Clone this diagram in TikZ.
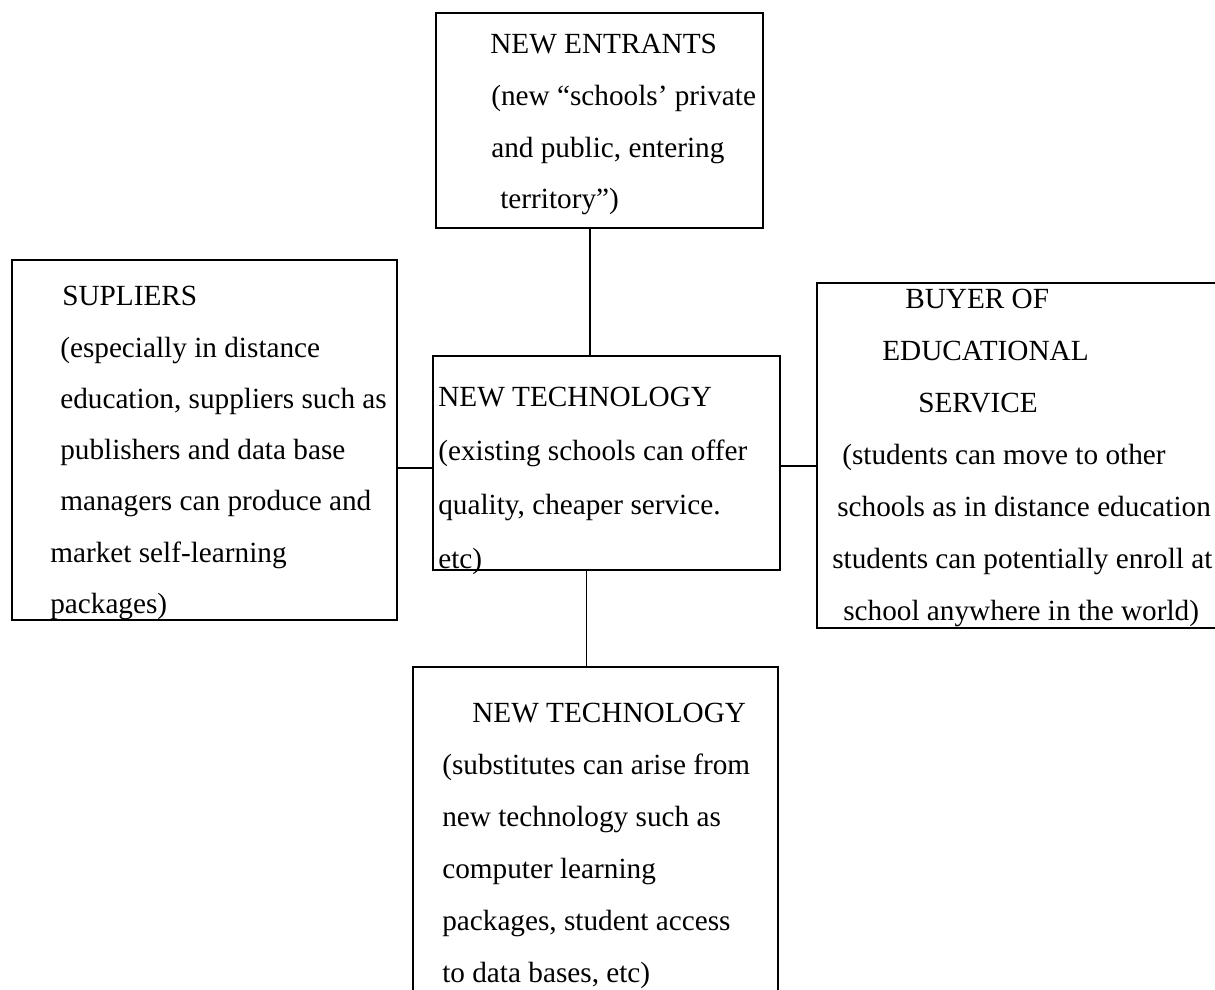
\documentclass[tikz,border=0pt]{standalone}
\usepackage{fontspec}
\setmainfont{Liberation Serif}
\usepackage{tikz}

\begin{document}
\begin{tikzpicture}[x=0.025cm, y=-0.025cm,
        box/.style={draw, line width=1.2pt, inner sep=0pt},
        txt/.style={anchor=base west, inner sep=0pt, font=\fontsize{20.8}{37}\selectfont}]
        \useasboundingbox (0,0) rectangle (1215,989);

        % New entrants
        \node[box, minimum width=8.175cm, minimum height=5.375cm] (entr) at (599.5,120.5) {};
        \node[txt] (entr1) at (490,53) {NEW ENTRANTS};
        \node[txt] (entr2) at (491,105) {(new “schools’ private};
        \node[txt] (entr3) at (491,157) {and public, entering};
        \node[txt] (entr4) at (500,208) {territory”)};

        % Suppliers
        \node[box, minimum width=9.625cm, minimum height=9cm] (sup) at (204.5,440) {};
        \node[txt] (sup1) at (62,305) {SUPLIERS};
        \node[txt] (sup2) at (60,357) {(especially in distance};
        \node[txt] (sup3) at (60,408) {education, suppliers such as};
        \node[txt] (sup4) at (60,459) {publishers and data base};
        \node[txt] (sup5) at (60,510) {managers can produce and};
        \node[txt] (sup6) at (50,562) {market self-learning};
        \node[txt] (sup7) at (50,613) {packages)};

        % New technology (centre)
        \node[box, minimum width=8.675cm, minimum height=5.35cm] (tech) at (606.5,463) {};
        \node[txt] (tech1) at (438,406) {NEW TECHNOLOGY};
        \node[txt] (tech2) at (438,460) {(existing schools can offer};
        \node[txt] (tech3) at (438,514) {quality, cheaper service.};
        \node[txt] (tech4) at (438,568) {etc)};

        % Buyer
        \node[box, minimum width=10.325cm, minimum height=8.625cm] (buy) at (1023.5,455.5) {};
        \node[txt] (buy1) at (905,308) {BUYER OF};
        \node[txt] (buy2) at (882,360) {EDUCATIONAL};
        \node[txt] (buy3) at (918,412) {SERVICE};
        \node[txt] (buy4) at (842,464) {(students can move to other};
        \node[txt] (buy5) at (837,516) {schools as in distance education};
        \node[txt] (buy6) at (832,568) {students can potentially enroll at};
        \node[txt] (buy7) at (843,620) {school anywhere in the world)};

        % Substitutes
        \node[box, minimum width=9.125cm, minimum height=8.575cm] (subst) at (595.5,838.5) {};
        \node[txt] (subst1) at (472,722) {NEW TECHNOLOGY};
        \node[txt] (subst2) at (442,774) {(substitutes can arise from};
        \node[txt] (subst3) at (442,826) {new technology such as};
        \node[txt] (subst4) at (442,878) {computer learning};
        \node[txt] (subst5) at (442,930) {packages, student access};
        \node[txt] (subst6) at (442,982) {to data bases, etc)};

        % Connectors
        \draw[line width=1.2pt] ([xshift=-0.24cm]entr.south) -- ([xshift=-0.24cm]entr.south |- tech.north);
        \draw[line width=1.2pt] ([yshift=-0.125cm]tech.west) -- ([yshift=-0.125cm]tech.west -| sup.east);
        \draw[line width=1.2pt] ([yshift=-0.075cm]tech.east) -- ([yshift=-0.075cm]tech.east -| buy.west);
        \draw[line width=1.2pt] ([xshift=-0.5cm]tech.south) -- ([xshift=-0.5cm]tech.south |- subst.north);
    \end{tikzpicture}
\end{document}
